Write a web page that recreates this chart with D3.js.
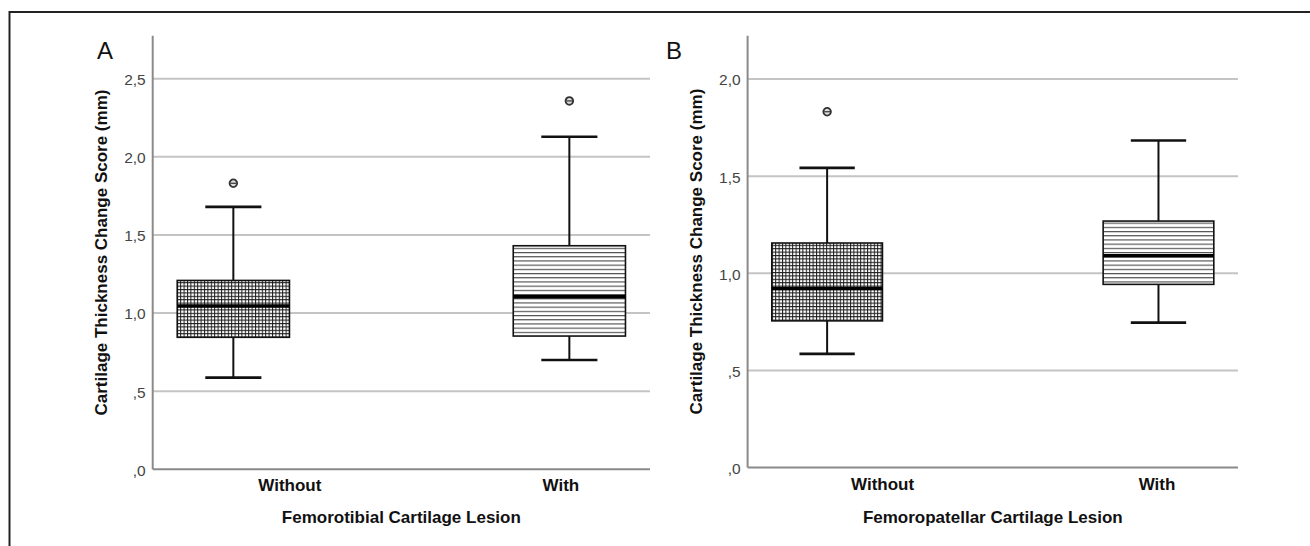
<!DOCTYPE html>
<html>
<head>
<meta charset="utf-8">
<script src="https://cdn.jsdelivr.net/npm/d3@7"></script>
<style>
  body { margin: 0; background: #fff; }
  svg { display: block; }
  text { font-family: "Liberation Sans", Arial, sans-serif; }
</style>
</head>
<body>
<svg id="chart" width="1310" height="546"></svg>
<script>
// categories
const groups = ['Without', 'With'];

// box stats per group: [whisker low, q1, median, q3, whisker high]
const tibialBoxes = [
  [0.587, 0.845, 1.045, 1.209, 1.680],
  [0.700, 0.853, 1.104, 1.431, 2.129]
];
const tibialOutliers = [[1.831], [2.358]];

const patellarBoxes = [
  [0.585, 0.755, 0.922, 1.156, 1.543],
  [0.746, 0.943, 1.090, 1.269, 1.684]
];
const patellarOutliers = [[1.832], []];

// y ticks
const tibialTicks = [0, 0.5, 1.0, 1.5, 2.0, 2.5];
const patellarTicks = [0, 0.5, 1.0, 1.5, 2.0];

const yTitle = 'Cartilage Thickness Change Score (mm)';

const svg = d3.select('#chart');

// fill patterns for the boxes
const defs = svg.append('defs');
const grid = defs.append('pattern')
  .attr('id', 'pat-grid')
  .attr('patternUnits', 'userSpaceOnUse')
  .attr('width', 3.4).attr('height', 3.4);
grid.append('rect').attr('width', 3.4).attr('height', 3.4).attr('fill', '#fff');
grid.append('path').attr('d', 'M0,0.5H3.4M0.5,0V3.4')
  .attr('stroke', '#1a1a1a').attr('stroke-width', 1);

const hlines = defs.append('pattern')
  .attr('id', 'pat-lines')
  .attr('patternUnits', 'userSpaceOnUse')
  .attr('width', 8).attr('height', 4.2);
hlines.append('rect').attr('width', 8).attr('height', 4.2).attr('fill', '#fff');
hlines.append('path').attr('d', 'M0,0.6H8')
  .attr('stroke', '#333').attr('stroke-width', 1);

const fills = ['url(#pat-grid)', 'url(#pat-lines)'];

// outer frame (open to right / bottom)
svg.append('rect')
  .attr('x', 9.5).attr('y', 12)
  .attr('width', 1400).attr('height', 600)
  .attr('fill', 'none')
  .attr('stroke', '#222')
  .attr('stroke-width', 2);

const fmt = v => v.toFixed(1).replace('.', ',').replace(/^0/, '');

function drawPanel(p) {
  const g = svg.append('g');

  const y = d3.scaleLinear().domain([0, p.yMax]).range([p.bottom, p.top]);
  const x = d3.scalePoint().domain(groups).range([p.left, p.right]).padding(0.24);
  const boxW = x.step() * 0.334;
  const capW = boxW / 2;

  // gridlines
  g.append('g').selectAll('line')
    .data(p.ticks.filter(t => t > 0))
    .join('line')
    .attr('x1', p.left).attr('x2', p.right)
    .attr('y1', d => y(d)).attr('y2', d => y(d))
    .attr('stroke', '#c4c4c4')
    .attr('stroke-width', 2);

  // y axis labels
  const ya = g.append('g')
    .attr('transform', `translate(${p.left},0)`)
    .call(d3.axisLeft(y).tickValues(p.ticks).tickSize(0).tickPadding(7).tickFormat(fmt));
  ya.select('.domain').remove();
  ya.selectAll('text')
    .attr('font-size', 15.5)
    .attr('fill', '#444')
    .attr('dy', '0.38em');

  // axis lines
  g.append('line')
    .attr('x1', p.left).attr('x2', p.left)
    .attr('y1', p.top).attr('y2', p.bottom)
    .attr('stroke', '#8a8a8a').attr('stroke-width', 2);
  g.append('line')
    .attr('x1', p.left).attr('x2', p.right)
    .attr('y1', p.bottom).attr('y2', p.bottom)
    .attr('stroke', '#8a8a8a').attr('stroke-width', 2);

  // x axis labels
  const xa = g.append('g')
    .attr('transform', `translate(0,${p.bottom})`)
    .call(d3.axisBottom(x).tickSize(0).tickPadding(10));
  xa.select('.domain').remove();
  xa.selectAll('text')
    .attr('font-size', 17)
    .attr('font-weight', 'bold')
    .attr('fill', '#111')
    .attr('dx', (d, i) => p.labelNudge[i]);

  // boxes
  const box = g.append('g').selectAll('g')
    .data(p.boxes.map((b, i) => ({ key: groups[i], b, out: p.outliers[i], i })))
    .join('g');

  // whisker stems
  box.append('line')
    .attr('x1', d => x(d.key)).attr('x2', d => x(d.key))
    .attr('y1', d => y(d.b[0])).attr('y2', d => y(d.b[4]))
    .attr('stroke', '#111').attr('stroke-width', 2);

  // caps
  box.selectAll('line.cap')
    .data(d => [d.b[0], d.b[4]].map(v => ({ v, key: d.key })))
    .join('line')
    .attr('class', 'cap')
    .attr('x1', d => x(d.key) - capW / 2).attr('x2', d => x(d.key) + capW / 2)
    .attr('y1', d => y(d.v)).attr('y2', d => y(d.v))
    .attr('stroke', '#111').attr('stroke-width', 2.6);

  box.append('rect')
    .attr('x', d => x(d.key) - boxW / 2)
    .attr('width', boxW)
    .attr('y', d => y(d.b[3]))
    .attr('height', d => y(d.b[1]) - y(d.b[3]))
    .attr('fill', d => fills[d.i])
    .attr('stroke', '#111')
    .attr('stroke-width', 1.6);

  // median
  box.append('line')
    .attr('x1', d => x(d.key) - boxW / 2).attr('x2', d => x(d.key) + boxW / 2)
    .attr('y1', d => y(d.b[2])).attr('y2', d => y(d.b[2]))
    .attr('stroke', '#000').attr('stroke-width', 3.5);

  // outliers
  const out = box.selectAll('g.out')
    .data(d => d.out.map(v => ({ v, key: d.key })))
    .join('g')
    .attr('class', 'out')
    .attr('transform', d => `translate(${x(d.key)},${y(d.v)})`);
  out.append('circle')
    .attr('r', 3.8)
    .attr('fill', '#ddd')
    .attr('stroke', '#333')
    .attr('stroke-width', 1.8);
  out.append('line')
    .attr('x1', -3).attr('x2', 3)
    .attr('stroke', '#333').attr('stroke-width', 1.2);

  // panel letter
  g.append('text')
    .attr('x', p.letterX).attr('y', 59)
    .attr('text-anchor', 'middle')
    .attr('font-size', 24)
    .attr('fill', '#111')
    .text(p.letter);

  // y title
  g.append('text')
    .attr('transform', `translate(${p.left - 46},${(p.top + p.bottom) / 2}) rotate(-90)`)
    .attr('text-anchor', 'middle')
    .attr('font-size', 17)
    .attr('font-weight', 'bold')
    .attr('fill', '#111')
    .text(yTitle);

  // x title
  g.append('text')
    .attr('x', (p.left + p.right) / 2)
    .attr('y', 523)
    .attr('text-anchor', 'middle')
    .attr('font-size', 17)
    .attr('font-weight', 'bold')
    .attr('fill', '#111')
    .text(p.xTitle);
}

drawPanel({
  letter: 'A', letterX: 105,
  xTitle: 'Femorotibial Cartilage Lesion',
  boxes: tibialBoxes, outliers: tibialOutliers, ticks: tibialTicks,
  yMax: 2.775,
  left: 152.7, right: 650, top: 35.8, bottom: 469.3,
  labelNudge: [56, -9]
});

drawPanel({
  letter: 'B', letterX: 674,
  xTitle: 'Femoropatellar Cartilage Lesion',
  boxes: patellarBoxes, outliers: patellarOutliers, ticks: patellarTicks,
  yMax: 2.223,
  left: 747.6, right: 1238, top: 35.8, bottom: 467.5,
  labelNudge: [55, -2]
});
</script>
</body>
</html>
